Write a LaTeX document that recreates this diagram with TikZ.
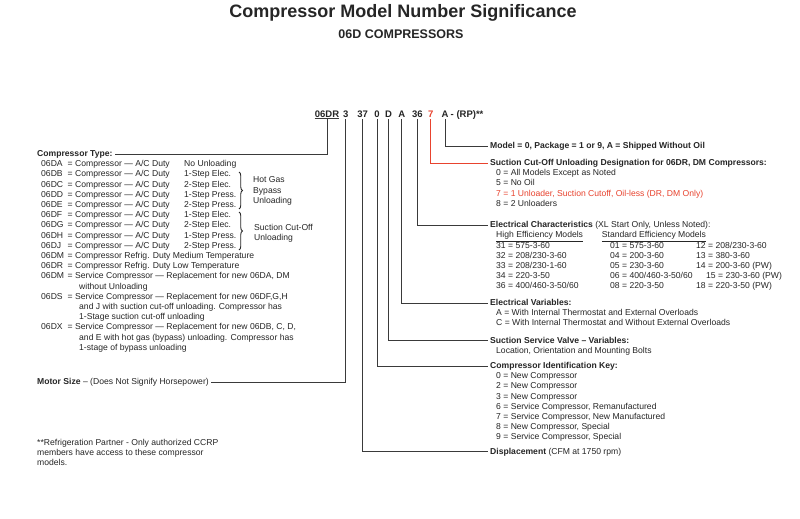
\documentclass[tikz,border=0pt]{standalone}
\usepackage{fontspec}
\setmainfont{Liberation Sans}
\usetikzlibrary{decorations.pathreplacing}
\definecolor{ink}{HTML}{262626}
\definecolor{redx}{HTML}{E8432E}
\definecolor{linec}{HTML}{3A3A3A}
\begin{document}
\begin{tikzpicture}[x=1pt,y=-1pt,
  txt/.style={anchor=base west, inner sep=0pt, font=\fontsize{8.6}{10}\selectfont, text=ink, text height=6.5pt, text depth=1.8pt},
  redtxt/.style={txt, text=redx},
  ch/.style={anchor=base, inner sep=0pt, font=\fontsize{9.5}{11}\selectfont\bfseries, text=ink},
  conn/.style={draw=linec, line width=0.9pt},
  brc/.style={draw=ink, line width=0.9pt, decorate, decoration={brace, amplitude=3.5pt}},
]
\useasboundingbox (0,0) rectangle (800,519);
\fill[white] (0,0) rectangle (800,519);

% titles
\node[anchor=base, inner sep=0pt, font=\fontsize{18}{20}\selectfont\bfseries, text=ink] (title) at (403,18) {Compressor Model Number Significance};
\node[anchor=base, inner sep=0pt, font=\fontsize{12.5}{14}\selectfont\bfseries, text=ink] (subtitle) at (401,38) {06D COMPRESSORS};

% model number characters
\node[ch] (c06DR) at (327,117) {06DR};
\node[ch] (c3) at (345.7,117) {3};
\node[ch] (c37) at (362.7,117) {37};
\node[ch] (c0) at (377,117) {0};
\node[ch] (cD) at (388.5,117) {D};
\node[ch] (cA) at (401.7,117) {A};
\node[ch] (c36) at (417.3,117) {36};
\node[ch, text=redx] (c7) at (430.7,117) {7};
\node[ch] (cA2) at (445,117) {A};
\node[ch, anchor=base west] (cRP) at (450.5,117) {- (RP)**};

% left side
\node[txt] (ctype) at (37,156.5) {\textbf{Compressor Type:}};
\foreach \y/\c/\s [count=\i] in {166.7/06DA/No Unloading, 176.9/06DB/1-Step Elec., 187.1/06DC/2-Step Elec., 197.3/06DD/1-Step Press., 207.5/06DE/2-Step Press., 217.7/06DF/1-Step Elec., 227.9/06DG/2-Step Elec., 238.1/06DH/1-Step Press., 248.3/06DJ/2-Step Press.}{
  \node[txt] (lc\i) at (41,\y) {\c};
  \node[txt] (ld\i) at (67.5,\y) {= Compressor — A/C Duty};
  \node[txt] (ls\i) at (184,\y) {\s};
}
\draw[brc] (239,172) -- (239,209);
\draw[brc] (239,212) -- (239,250);
\node[txt] (hg1) at (253,182.5) {Hot Gas};
\node[txt] (hg2) at (253,193) {Bypass};
\node[txt] (hg3) at (253,203.5) {Unloading};
\node[txt] (sc1) at (254,230.5) {Suction Cut-Off};
\node[txt] (sc2) at (254,240.5) {Unloading};

\node[txt] (lc10) at (41,258.5) {06DM};
\node[txt] (ld10) at (67.5,258.5) {= Compressor Refrig. Duty Medium Temperature};
\node[txt] (lc11) at (41,268.7) {06DR};
\node[txt] (ld11) at (67.5,268.7) {= Compressor Refrig. Duty Low Temperature};
\node[txt] (lc12) at (41,278.9) {06DM};
\node[txt] (ld12) at (67.5,278.9) {= Service Compressor — Replacement for new 06DA, DM};
\node[txt] (le12) at (79,289.1) {without Unloading};
\node[txt] (lc13) at (41,299.3) {06DS};
\node[txt] (ld13) at (67.5,299.3) {= Service Compressor — Replacement for new 06DF,G,H};
\node[txt] (le13) at (79,309.5) {and J with suction cut-off unloading. Compressor has};
\node[txt] (lf13) at (79,319.7) {1-Stage suction cut-off unloading};
\node[txt] (lc14) at (41,329.9) {06DX};
\node[txt] (ld14) at (67.5,329.9) {= Service Compressor — Replacement for new 06DB, C, D,};
\node[txt] (le14) at (79,340.1) {and E with hot gas (bypass) unloading. Compressor has};
\node[txt] (lf14) at (79,350.3) {1-stage of bypass unloading};

\node[txt] (motor) at (37,384.5) {\textbf{Motor Size} – (Does Not Signify Horsepower)};

\node[txt] (fn1) at (37,445.5) {**Refrigeration Partner - Only authorized CCRP};
\node[txt] (fn2) at (37,455.7) {members have access to these compressor};
\node[txt] (fn3) at (37,465.9) {models.};

% right side
\node[txt] (model) at (490,148.5) {\textbf{Model = 0, Package = 1 or 9, A = Shipped Without Oil}};
\node[txt] (cutoff) at (490,165.5) {\textbf{Suction Cut-Off Unloading Designation for 06DR, DM Compressors:}};
\node[txt] (co0) at (496,175.7) {0 = All Models Except as Noted};
\node[txt] (co5) at (496,185.9) {5 = No Oil};
\node[redtxt] (co7) at (496,196.1) {7 = 1 Unloader, Suction Cutoff, Oil-less (DR, DM Only)};
\node[txt] (co8) at (496,206.3) {8 = 2 Unloaders};

\node[txt] (elch) at (490,227.5) {\textbf{Electrical Characteristics} (XL Start Only, Unless Noted):};
\node[txt] (hieff) at (496,237.7) {\underline{High Efficiency Models}};
\node[txt] (steff) at (601.7,237.7) {\underline{Standard Efficiency Models}};
\foreach \y/\a/\b/\c [count=\i] in {248/31 = 575-3-60/01 = 575-3-60/12 = 208\slash 230-3-60, 258.2/32 = 208\slash 230-3-60/04 = 200-3-60/13 = 380-3-60, 268.4/33 = 208\slash 230-1-60/05 = 230-3-60/14 = 200-3-60 (PW), 288.8/36 = 400\slash 460-3-50\slash 60/08 = 220-3-50/18 = 220-3-50 (PW)}{
  \node[txt] (ea\i) at (496,\y) {\a};
  \node[txt] (eb\i) at (610,\y) {\b};
  \node[txt] (ec\i) at (696,\y) {\c};
}
\node[txt] (ea5) at (496,278.6) {34 = 220-3-50};
\node[txt] (eb5) at (610,278.6) {06 = 400/460-3-50/60};
\node[txt] (ec5) at (706,278.6) {15 = 230-3-60 (PW)};

\node[txt] (elvar) at (490,305.5) {\textbf{Electrical Variables:}};
\node[txt] (evA) at (496,315.7) {A = With Internal Thermostat and External Overloads};
\node[txt] (evC) at (496,325.9) {C = With Internal Thermostat and Without External Overloads};

\node[txt] (ssv) at (490,343) {\textbf{Suction Service Valve – Variables:}};
\node[txt] (ssv1) at (496,353.2) {Location, Orientation and Mounting Bolts};

\node[txt] (cik) at (490,368.5) {\textbf{Compressor Identification Key:}};
\foreach \y/\t [count=\i] in {378.7/0 = New Compressor, 388.9/2 = New Compressor, 399.1/3 = New Compressor, 409.3/{6 = Service Compressor, Remanufactured}, 419.5/{7 = Service Compressor, New Manufactured}, 429.7/{8 = New Compressor, Special}, 439.9/{9 = Service Compressor, Special}}{
  \node[txt] (ck\i) at (496,\y) {\t};
}
\node[txt] (disp) at (490,454) {\textbf{Displacement} (CFM at 1750 rpm)};

% connectors
\draw[conn] ([yshift=-1.5pt]c06DR.south west) -- ([yshift=-1.5pt]c06DR.south east);
\draw[conn, shorten <=1.5pt, shorten >=2.5pt] (c06DR.south) |- (ctype.east);
\draw[conn, shorten <=2pt, shorten >=2.5pt] (c3.south) |- (motor.east);
\draw[conn, shorten <=2pt, shorten >=2pt] (c37.south) |- (disp.west);
\draw[conn, shorten <=2pt, shorten >=2pt] (c0.south) |- (cik.west);
\draw[conn, shorten <=2pt, shorten >=2pt] (cD.south) |- (ssv.west);
\draw[conn, shorten <=2pt, shorten >=2pt] (cA.south) |- (elvar.west);
\draw[conn, shorten <=2pt, shorten >=2pt] (c36.south) |- (elch.west);
\draw[conn, draw=redx, shorten <=2pt, shorten >=2pt] (c7.south) |- (cutoff.west);
\draw[conn, shorten <=2pt, shorten >=2pt] (cA2.south) |- (model.west);
\end{tikzpicture}
\end{document}
